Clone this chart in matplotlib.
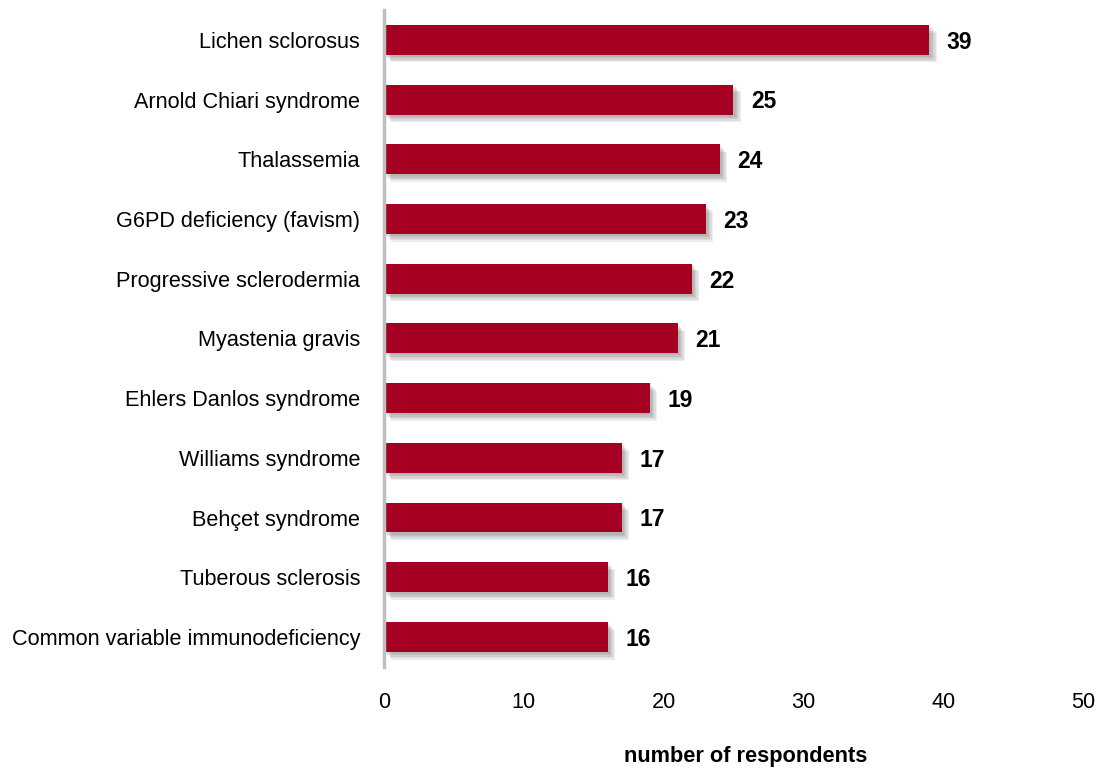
import matplotlib
matplotlib.use("Agg")
from matplotlib import pyplot as plt
import matplotlib.patheffects as pe

diseases = ["Lichen sclorosus", "Arnold Chiari syndrome", "Thalassemia",
            "G6PD deficiency (favism)", "Progressive sclerodermia", "Myastenia gravis",
            "Ehlers Danlos syndrome", "Williams syndrome", "Behçet syndrome",
            "Tuberous sclerosis", "Common variable immunodeficiency"]
counts = [39, 25, 24, 23, 22, 21, 19, 17, 17, 16, 16]
xticks = [0, 10, 20, 30, 40, 50]

plt.rcParams['font.family'] = ['Liberation Sans', 'DejaVu Sans']

fig = plt.figure(figsize=(11.03, 7.7), dpi=100)
ax = fig.add_axes([0.348, 0.134, 0.634, 0.853])

ypos = list(range(len(diseases)))[::-1]
bars = ax.barh(ypos, counts, height=0.5, color='#A50021')
# soft drop shadow, stacked a few times for a blurred look
shadow = [pe.SimplePatchShadow(offset=(k, -k), shadow_rgbFace='#404040', alpha=0.09)
          for k in (1.5, 2.5, 3.5, 4.5, 5.5)]
for b in bars:
    b.set_path_effects(shadow + [pe.Normal()])

for y, v in zip(ypos, counts):
    ax.text(v + 1.25, y - 0.04, str(v), va='center', ha='left', fontsize=16.5,
            fontweight='bold')

ax.set_xlim(0, 50)
ax.set_ylim(-0.5, len(diseases) - 0.5)
ax.set_xticks(xticks)
ax.set_yticks(ypos)
ax.set_yticklabels(diseases)
ax.tick_params(axis='both', length=0, labelsize=15.6)
ax.tick_params(axis='x', pad=18)
ax.tick_params(axis='y', pad=17)
for s in ['top', 'right', 'bottom']:
    ax.spines[s].set_visible(False)
ax.spines['left'].set_color('#BFBFBF')
ax.spines['left'].set_linewidth(2.5)
ax.set_xlabel('number of respondents', fontsize=15.7, fontweight='bold', labelpad=22)
ax.xaxis.set_label_coords(0.517, -0.12)

fig.savefig('out.png', dpi=100)
